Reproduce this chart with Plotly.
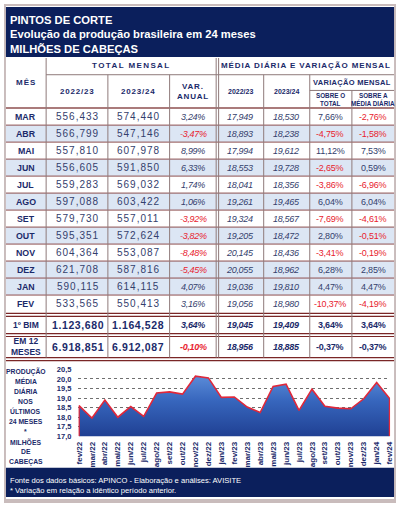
import plotly.graph_objects as go

# ---------------- DATA ----------------
TITLE_LINES = ["PINTOS DE CORTE", "Evolução da produção brasileira em 24 meses", "MILHÕES DE CABEÇAS"]
MONTHS = ["MAR", "ABR", "MAI", "JUN", "JUL", "AGO", "SET", "OUT", "NOV", "DEZ", "JAN", "FEV"]
TOTAL_2223 = [556.433, 566.799, 557.810, 556.605, 559.283, 597.088, 579.730, 595.351, 604.364, 621.708, 590.115, 533.565]
TOTAL_2324 = [574.440, 547.146, 607.978, 591.850, 569.032, 603.422, 557.011, 572.624, 553.087, 587.816, 614.115, 550.413]
VAR_ANUAL = [3.24, -3.47, 8.99, 6.33, 1.74, 1.06, -3.92, -3.82, -8.48, -5.45, 4.07, 3.16]
MEDIA_2223 = [17.949, 18.893, 17.994, 18.553, 18.041, 19.261, 19.324, 19.205, 20.145, 20.055, 19.036, 19.056]
MEDIA_2324 = [18.530, 18.238, 19.612, 19.728, 18.356, 19.465, 18.567, 18.472, 18.436, 18.962, 19.810, 18.980]
VAR_TOTAL = [7.66, -4.75, 11.12, -2.65, -3.86, 6.04, -7.69, 2.80, -3.41, 6.28, 4.47, -10.37]
VAR_MEDIA = [-2.76, -1.58, 7.53, 0.59, -6.96, 6.04, -4.61, -0.51, -0.19, 2.85, 4.47, -4.19]

BIM_ROW = {"label": "1º BIM", "t1": 1123.680, "t2": 1164.528, "va": 3.64,
           "m1": 19.045, "m2": 19.409, "vt": 3.64, "vm": 3.64}
M12_ROW = {"label": "EM 12<br>MESES", "t1": 6918.851, "t2": 6912.087, "va": -0.10,
           "m1": 18.956, "m2": 18.885, "vt": -0.37, "vm": -0.37}

CHART_LABELS = ["fev/22", "mar/22", "abr/22", "mai/22", "jun/22", "jul/22", "ago/22", "set/22",
                "out/22", "nov/22", "dez/22", "jan/23", "fev/23", "mar/23", "abr/23", "mai/23",
                "jun/23", "jul/23", "ago/23", "set/23", "out/23", "nov/23", "dez/23", "jan/24", "fev/24"]
CHART_VALUES = [18.60, 17.949, 18.893, 17.994, 18.553, 18.041, 19.261, 19.324, 19.205, 20.145,
                20.055, 19.036, 19.056, 18.530, 18.238, 19.612, 19.728, 18.356, 19.465, 18.567,
                18.472, 18.436, 18.962, 19.810, 18.980]
Y_TICKS = [17.0, 17.5, 18.0, 18.5, 19.0, 19.5, 20.0, 20.5]
CHART_SIDE_LABEL = ["PRODUÇÃO", "MÉDIA", "DIÁRIA", "NOS", "ÚLTIMOS", "24 MESES", "*", "MILHÕES", "DE", "CABEÇAS"]
FOOTER_LINES = ["Fonte dos dados básicos: APINCO - Elaboração e análises: AVISITE",
                "* Variação em relação a idêntico período anterior."]

# ---------------- STYLE ----------------
W, H = 400, 508
NAVY = "#0b1f5c"
TXT_NAVY = "#1b2a6a"
NUM = "#34406c"
RED = "#e8222e"
SHADE = "#dce6f4"
HLINE = "#8e4f4f"
VLINE = "#8f7a7a"
DRED = "#7a2626"
FONT = "Liberation Sans, Arial, sans-serif"

shapes = []
annotations = []


def rect(x0, y0, x1, y1, fill, line=None):
    shapes.append(dict(type="rect", xref="x", yref="y", x0=x0, y0=y0, x1=x1, y1=y1,
                       fillcolor=fill, line=dict(width=0) if line is None else line, layer="below"))


def seg(x0, y0, x1, y1, color, width=1):
    shapes.append(dict(type="line", xref="x", yref="y", x0=x0, y0=y0, x1=x1, y1=y1,
                       line=dict(color=color, width=width), layer="below"))


def txt(x, y, s, size, color, bold=False, italic=False, ls=None, xanchor="center"):
    t = s
    if ls is not None:
        t = f'<span style="letter-spacing:{ls}px">{t}</span>'
    if italic:
        t = f"<i>{t}</i>"
    if bold:
        t = f"<b>{t}</b>"
    annotations.append(dict(x=x, y=y, xref="x", yref="y", text=t, showarrow=False,
                            xanchor=xanchor, yanchor="middle",
                            font=dict(family=FONT, size=size, color=color)))


def fnum(v, d=3):
    s = f"{v:,.{d}f}"
    return s.replace(",", "#").replace(".", ",").replace("#", ".")


def fpct(v):
    return f"{v:.2f}".replace(".", ",") + "%"


# frame and blocks
rect(0, 0, W, H, "#c9bcbc")
rect(2, 2, W - 2, H - 4, "white")
rect(2, 3, W - 2, 54, NAVY)
rect(2, 472, W - 2, 502, NAVY)

for i, line in enumerate(TITLE_LINES):
    txt(4, 16 + 15 * i, line, 11.2, "white", bold=True, xanchor="left")

# table geometry
ROW_TOP = 106
ROW_H = 17.3
COLS = [22, 75, 137, 193, 241, 288, 333, 377]
SHADED = [False, True, False, True, False, True, False, True, False, True, True, False]

for i in range(len(MONTHS)):
    if SHADED[i]:
        rect(2, ROW_TOP + ROW_H * i, W - 2, ROW_TOP + ROW_H * (i + 1), SHADE)

# horizontal lines
seg(43, 72, W - 2, 72, VLINE, 1)
seg(312, 88, W - 2, 88, VLINE, 1)
seg(2, ROW_TOP, W - 2, ROW_TOP, HLINE, 1.5)
for i in range(1, len(MONTHS)):
    seg(2, ROW_TOP + ROW_H * i, W - 2, ROW_TOP + ROW_H * i, HLINE, 1)
for yy in (315, 318, 335.5, 338.5, 360, 363):
    seg(2, yy, W - 2, yy, DRED, 1.2)

# vertical lines
for xx in (43, 216.5, 219):
    seg(xx, 55, xx, 360, VLINE, 1)
for xx in (106, 169, 265, 312):
    seg(xx, 72, xx, 360, VLINE, 1)
seg(355, 88, 355, 360, VLINE, 1)

# headers
txt(130, 63, "TOTAL MENSAL", 8, TXT_NAVY, bold=True, ls=1.4)
txt(308, 63, "MÉDIA DIÁRIA E VARIAÇÃO MENSAL", 8, TXT_NAVY, bold=True, ls=0.9)
txt(22, 80, "MÊS", 8, TXT_NAVY, bold=True, ls=1)
txt(75, 89, "2022/23", 8, TXT_NAVY, bold=True, ls=0.8)
txt(137, 89, "2023/24", 8, TXT_NAVY, bold=True, ls=0.8)
txt(193, 84, "VAR.", 8, TXT_NAVY, bold=True, ls=0.8)
txt(193, 94, "ANUAL", 8, TXT_NAVY, bold=True, ls=0.8)
txt(241, 89, "2022/23", 7, TXT_NAVY, bold=True)
txt(288, 89, "2023/24", 7, TXT_NAVY, bold=True)
txt(355, 80, "VARIAÇÃO MENSAL", 7.5, TXT_NAVY, bold=True, ls=0.3)
txt(333, 93, "SOBRE O", 6.3, TXT_NAVY, bold=True)
txt(333, 101, "TOTAL", 6.3, TXT_NAVY, bold=True)
txt(377, 93, "SOBRE A", 6.3, TXT_NAVY, bold=True)
txt(377, 101, "MÉDIA DIÁRIA", 6.3, TXT_NAVY, bold=True)


def pcol(v):
    return RED if v < 0 else NUM


for i, m in enumerate(MONTHS):
    yc = ROW_TOP + ROW_H * (i + 0.5)
    txt(COLS[0], yc, m, 8.8, TXT_NAVY, bold=True)
    txt(COLS[1], yc, fnum(TOTAL_2223[i]), 10, NUM, ls=1)
    txt(COLS[2], yc, fnum(TOTAL_2324[i]), 10, NUM, ls=1)
    txt(COLS[3], yc, fpct(VAR_ANUAL[i]), 9, pcol(VAR_ANUAL[i]), italic=True, ls=-0.3)
    txt(COLS[4], yc, fnum(MEDIA_2223[i]), 9, NUM, italic=True, ls=-0.3)
    txt(COLS[5], yc, fnum(MEDIA_2324[i]), 9, NUM, italic=True, ls=-0.3)
    txt(COLS[6], yc, fpct(VAR_TOTAL[i]), 9, pcol(VAR_TOTAL[i]), ls=-0.2)
    txt(COLS[7], yc, fpct(VAR_MEDIA[i]), 9, pcol(VAR_MEDIA[i]), ls=-0.2)

for row, yc, lsize in ((BIM_ROW, 326.5, 8.5), (M12_ROW, 349, 8.5)):
    txt(COLS[0], yc, row["label"], lsize, TXT_NAVY, bold=True)
    txt(COLS[1], yc, fnum(row["t1"]), 10.5, TXT_NAVY, bold=True, ls=0.6)
    txt(COLS[2], yc, fnum(row["t2"]), 10.5, TXT_NAVY, bold=True, ls=0.6)
    txt(COLS[3], yc, fpct(row["va"]), 9, RED if row["va"] < 0 else TXT_NAVY, bold=True, italic=True, ls=-0.3)
    txt(COLS[4], yc, fnum(row["m1"]), 9, TXT_NAVY, bold=True, italic=True, ls=-0.3)
    txt(COLS[5], yc, fnum(row["m2"]), 9, TXT_NAVY, bold=True, italic=True, ls=-0.3)
    txt(COLS[6], yc, fpct(row["vt"]), 9, TXT_NAVY, bold=True, ls=-0.2)
    txt(COLS[7], yc, fpct(row["vm"]), 9, TXT_NAVY, bold=True, ls=-0.2)

# chart side label
for i, s in enumerate(CHART_SIDE_LABEL):
    txt(22, 374 + 10.2 * i, s, 6.8, TXT_NAVY, bold=True)

# footer
for i, s in enumerate(FOOTER_LINES):
    txt(4, 485 + 10 * i, s, 7.6, "white", xanchor="left")

# ---------------- FIGURE ----------------
fig = go.Figure()
Y_MIN, Y_MAX = Y_TICKS[0], Y_TICKS[-1]

fig.add_trace(go.Scatter(
    x=CHART_LABELS, y=CHART_VALUES, xaxis="x2", yaxis="y2", mode="none",
    fill="tozeroy",
    fillgradient=dict(type="vertical", start=Y_MIN, stop=max(CHART_VALUES),
                      colorscale=[[0, "#1f3f92"], [0.6, "#3766bd"], [1, "#5a8bd8"]]),
    hoverinfo="skip"))
fig.add_trace(go.Scatter(
    x=[CHART_LABELS[0]] + CHART_LABELS + [CHART_LABELS[-1]],
    y=[Y_MIN] + CHART_VALUES + [Y_MIN],
    xaxis="x2", yaxis="y2", mode="lines",
    line=dict(color="#e0283a", width=1.6), hoverinfo="skip"))

y_ticktext = [f'<span style="letter-spacing:1.6px">{v:.1f}</span>'.replace(".", ",") for v in Y_TICKS]

fig.update_layout(
    width=W, height=H, margin=dict(l=0, r=0, t=0, b=0),
    paper_bgcolor="white", plot_bgcolor="rgba(0,0,0,0)", showlegend=False,
    separators=",.",
    xaxis=dict(range=[0, W], domain=[0, 1], visible=False, fixedrange=True),
    yaxis=dict(range=[H, 0], domain=[0, 1], visible=False, fixedrange=True),
    xaxis2=dict(domain=[76 / W, 394 / W], anchor="y2", type="category",
                range=[-0.04, len(CHART_LABELS) - 1 + 0.04],
                tickangle=-90, showgrid=False, showline=False, zeroline=False, ticks="",
                tickfont=dict(family=FONT, size=8, color=TXT_NAVY, weight="bold"),
                ticklabelstandoff=3),
    yaxis2=dict(domain=[1 - 440 / H, 1 - 372 / H], anchor="x2", range=[Y_MIN, Y_MAX],
                tickvals=Y_TICKS, ticktext=y_ticktext,
                showgrid=True, gridcolor="#6f6f6f", griddash="dot", gridwidth=1,
                zeroline=False, showline=False, ticks="",
                tickfont=dict(family=FONT, size=7.5, color=TXT_NAVY, weight="bold"),
                ticklabelstandoff=6),
    shapes=shapes, annotations=annotations,
)

fig.write_html("out.html", config={"displayModeBar": False},
               post_script="document.body.style.margin='0';document.body.style.overflow='hidden';")
